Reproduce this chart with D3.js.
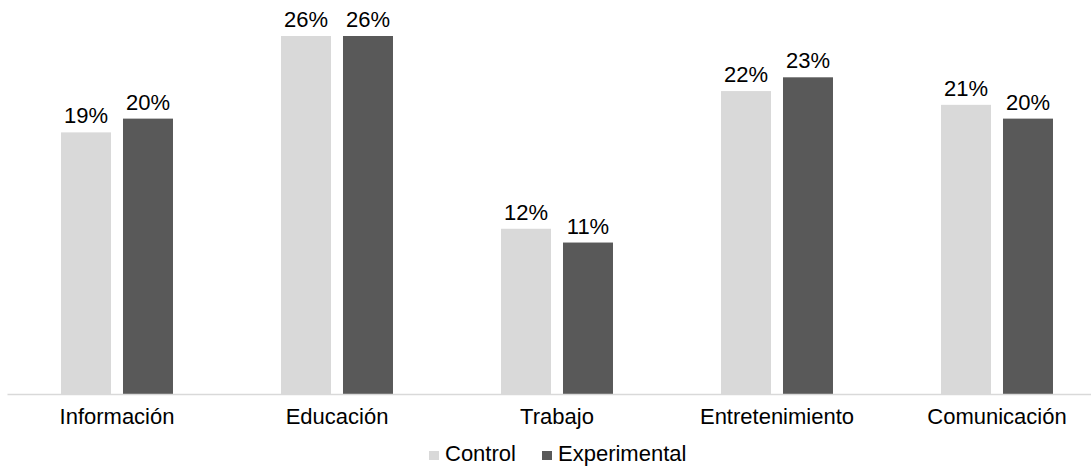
<!DOCTYPE html>
<html>
<head>
<meta charset="utf-8">
<script src="https://cdn.jsdelivr.net/npm/d3@7"></script>
<style>
  html, body { margin: 0; padding: 0; background: #fff; }
  svg { display: block; }
  text { font-family: "Liberation Sans", Arial, sans-serif; fill: #000; }
</style>
</head>
<body>
<svg id="chart" width="1091" height="466"></svg>
<script>
const categories = ["Información", "Educación", "Trabajo", "Entretenimiento", "Comunicación"];
const seriesNames = ["Control", "Experimental"];
const controlValues = [19, 26, 12, 22, 21];
const experimentalValues = [20, 26, 11, 23, 20];
const seriesColors = ["#d9d9d9", "#595959"];

const W = 1091, H = 466;
const baseY = 394, topY = 36;
const svg = d3.select("#chart");

const x0 = d3.scaleBand().domain(categories).range([7, 1107])
  .paddingInner(0.491).paddingOuter(0.2455);
const x1 = d3.scaleBand().domain(seriesNames).range([0, x0.bandwidth()])
  .paddingInner(0.1935);
const y = d3.scaleLinear().domain([0, 26]).range([baseY, topY]);

const data = categories.map((c, i) => ({
  cat: c,
  vals: [
    { s: seriesNames[0], v: controlValues[i], color: seriesColors[0] },
    { s: seriesNames[1], v: experimentalValues[i], color: seriesColors[1] }
  ]
}));

const g = svg.selectAll("g.cat").data(data).join("g")
  .attr("class", "cat")
  .attr("transform", d => `translate(${x0(d.cat)},0)`);

g.selectAll("rect").data(d => d.vals).join("rect")
  .attr("x", d => x1(d.s))
  .attr("width", x1.bandwidth())
  .attr("y", d => y(d.v))
  .attr("height", d => baseY - y(d.v))
  .attr("fill", d => d.color);

g.selectAll("text.val").data(d => d.vals).join("text")
  .attr("class", "val")
  .attr("x", d => x1(d.s) + x1.bandwidth() / 2)
  .attr("y", d => y(d.v) - 9)
  .attr("text-anchor", "middle")
  .style("font-size", "22px")
  .text(d => d.v + "%");

// axis
const axis = d3.axisBottom(x0).tickSize(0).tickPadding(0);
const ax = svg.append("g").attr("transform", `translate(0,${baseY})`).call(axis);
ax.select(".domain").attr("stroke", "#d9d9d9").attr("stroke-width", 1.5);
ax.selectAll(".tick text")
  .attr("y", 30)
  .attr("dy", 0)
  .style("font-size", "22px")
  .style("font-family", "'Liberation Sans', Arial, sans-serif")
  .attr("fill", "#000");

// legend
const legend = svg.append("g");
const legendPos = [{ sq: 429, tx: 445 }, { sq: 542, tx: 558 }];
seriesNames.forEach((s, i) => {
  legend.append("rect")
    .attr("x", legendPos[i].sq).attr("y", 451)
    .attr("width", 10).attr("height", 9)
    .attr("fill", seriesColors[i]);
  legend.append("text")
    .attr("x", legendPos[i].tx).attr("y", 461)
    .style("font-size", "22px")
    .text(s);
});
</script>
</body>
</html>
